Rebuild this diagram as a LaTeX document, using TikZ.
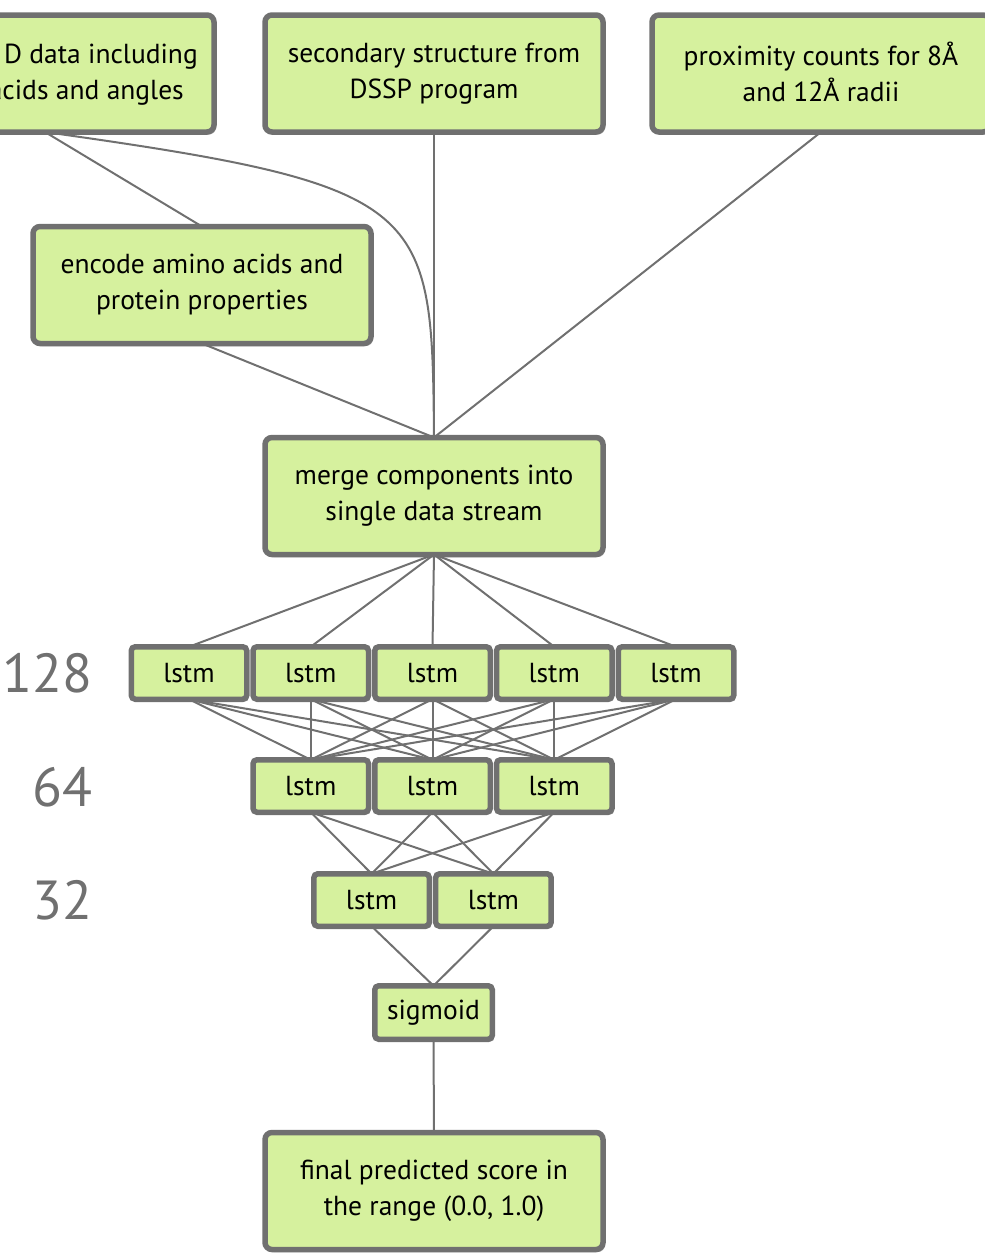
\documentclass[tikz,border=0pt]{standalone}
\usepackage{fontspec}
\setmainfont{PT Sans}
\usetikzlibrary{shadows,backgrounds}
\definecolor{boxgreen}{RGB}{214,241,158}
\definecolor{edgegray}{RGB}{112,112,112}
\begin{document}
\begin{tikzpicture}[x=1pt,y=-1pt,
 boxbase/.style={draw=edgegray, line width=5.5pt, fill=boxgreen, outer sep=0pt, inner sep=0pt, align=center, font=\fontsize{27.5}{36}\selectfont, drop shadow={shadow xshift=2pt, shadow yshift=-2.5pt, opacity=0.25, fill=black}},
 bigbox/.style={boxbase, rounded corners=7pt, minimum width=338pt, minimum height=117pt},
 lstmbox/.style={boxbase, rounded corners=4pt, minimum width=115.5pt, minimum height=52.5pt},
 link/.style={draw=edgegray, line width=2pt},
 cuttext/.style={anchor=base east, inner sep=0pt, font=\fontsize{27.5}{36}\selectfont},
 layerlabel/.style={anchor=base east, text=edgegray, inner sep=0pt, font=\fontsize{55}{60}\selectfont}
]
\useasboundingbox (0,0) rectangle (985,1253);

% top inputs
\node[bigbox] (raw) at (45,73.5) {};
\node[cuttext] (rawa) at (198,63) {D data including};
\node[cuttext] (rawb) at (184,99) {acids and angles};
\node[bigbox] (dssp) at (434,73.5) {secondary structure from\\DSSP program};
\node[bigbox, text depth=0pt] (prox) at (821,73.5) {\raisebox{0pt}[0.75em][0pt]{proximity counts for 8Å}\\and 12Å radii};
\node[bigbox] (enc) at (202,285) {encode amino acids and\\protein properties};
\node[bigbox] (merge) at (434,496) {merge components into\\single data stream};

% lstm layers
\foreach \i/\x in {1/189,2/310.75,3/432.5,4/554.25,5/676}
  \node[lstmbox] (a\i) at (\x,673) {lstm};
\foreach \i/\x in {1/310.75,2/432.5,3/554.25}
  \node[lstmbox] (b\i) at (\x,786) {lstm};
\foreach \i/\x in {1/371.6,2/493.4}
  \node[lstmbox] (c\i) at (\x,900) {lstm};
\node[lstmbox, minimum width=117.5pt, minimum height=53.5pt] (sig) at (433.5,1012.5) {sigmoid};
\node[bigbox] (final) at (434,1191) {final predicted score in\\the range (0.0, 1.0)};

% layer sizes
\node[layerlabel] (n128) at (93,692) {128};
\node[layerlabel] (n64) at (93,806) {64};
\node[layerlabel] (n32) at (93,919) {32};

\begin{scope}[on background layer]
\draw[link] (raw.south) -- (enc.north);
\draw[link] (raw.south) .. controls (430,186) and (432,205) .. (merge.north);
\draw[link] (enc.south) -- (merge.north);
\draw[link] (dssp.south) -- (merge.north);
\draw[link] (prox.south) -- (merge.north);
\foreach \i in {1,...,5} \draw[link] (merge.south) -- (a\i.north);
\foreach \i in {1,...,5} \foreach \j in {1,2,3} \draw[link] (a\i.south) -- (b\j.north);
\foreach \i in {1,2,3} \foreach \j in {1,2} \draw[link] (b\i.south) -- (c\j.north);
\foreach \i in {1,2} \draw[link] (c\i.south) -- (sig.north);
\draw[link] (sig.south) -- (final.north);
\end{scope}
\end{tikzpicture}
\end{document}
